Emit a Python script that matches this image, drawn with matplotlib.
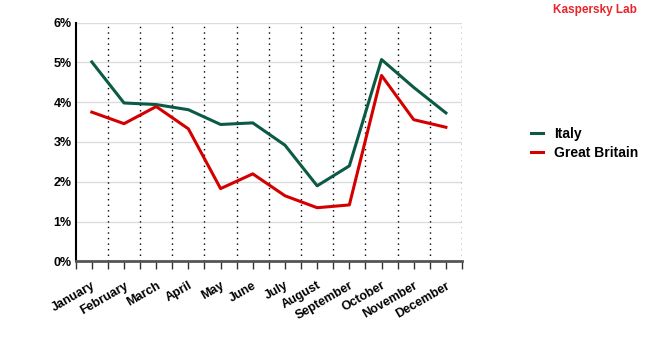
import numpy as np
import matplotlib.pyplot as plt

plt.rcParams['font.family'] = ['Liberation Sans', 'DejaVu Sans']

# Monthly share (%) per country
months = ['January', 'February', 'March', 'April', 'May', 'June', 'July',
          'August', 'September', 'October', 'November', 'December']
italy = [5.01, 3.98, 3.94, 3.81, 3.44, 3.48, 2.92, 1.90, 2.40, 5.07, 4.37, 3.73]
great_britain = [3.75, 3.46, 3.89, 3.33, 1.83, 2.20, 1.65, 1.35, 1.42, 4.67, 3.56, 3.37]

green = '#0b5a45'
red = '#d40000'

fig = plt.figure(figsize=(6.5, 3.5), dpi=100)
ax = fig.add_axes([0.1165, 0.2529, 0.5943, 0.6828])

x = np.arange(1, len(months) + 1)
ax.plot(x, italy, color=green, lw=2.2, label='Italy', zorder=3)
ax.plot(x, great_britain, color=red, lw=2.2, label='Great Britain', zorder=3)

ax.set_xlim(0.5, len(months) + 0.5)
ax.set_ylim(0, 6)

# y axis: percent labels with light horizontal grid
ax.set_yticks(range(0, 7))
ax.set_yticklabels([f'{v}%' for v in range(0, 7)], fontsize=9, fontweight='bold')
ax.tick_params(axis='y', length=0, pad=3)
for v in range(1, 7):
    ax.axhline(v, color='#dcdcdc', lw=1, zorder=1)

# x axis: boundaries as major ticks (dotted lines), month names on minor ticks
bounds = np.arange(0.5, len(months) + 1)
ax.set_xticks(bounds)
ax.set_xticklabels([])
ax.set_xticks(x, minor=True)
ax.set_xticklabels(months, minor=True, rotation=30, ha='right',
                   rotation_mode='anchor', fontsize=9, fontweight='bold')
ax.tick_params(axis='x', which='both', length=6, width=1, color='#333333',
               direction='out')
ax.tick_params(axis='x', which='minor', pad=7)
for b in bounds[1:]:
    ax.axvline(b, color='black', lw=1, ls=(0, (1, 3)), zorder=2)

for side in ['top', 'right']:
    ax.spines[side].set_visible(False)
ax.spines['left'].set_color('black')
ax.spines['left'].set_linewidth(1.5)
ax.spines['bottom'].set_color('#555555')
ax.spines['bottom'].set_linewidth(2)

fig.legend(loc='center left', bbox_to_anchor=(0.797, 0.59), frameon=False,
           prop={'size': 10, 'weight': 'bold'}, handlelength=0.9,
           handletextpad=0.8, labelspacing=0.35)

fig.text(0.915, 0.97, 'Kaspersky Lab', color='#e8262b', fontsize=8.5,
         fontweight='bold', ha='center', va='center')

fig.savefig('out.png', dpi=100)
